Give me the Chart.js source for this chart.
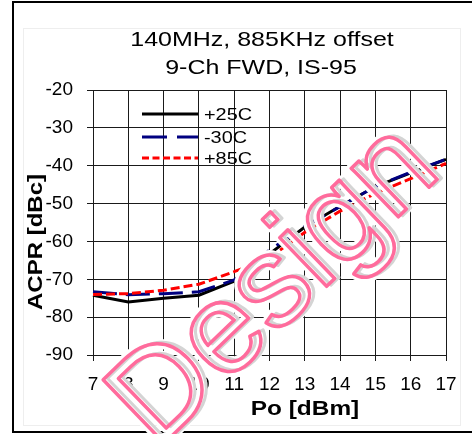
<!DOCTYPE html>
<html>
<head>
<meta charset="utf-8">
<script src="https://cdn.jsdelivr.net/npm/chart.js@4.4.0/dist/chart.umd.min.js"></script>
<style>
  html, body { margin: 0; padding: 0; background: #fff; }
  #wrap { width: 472px; height: 434px; }
</style>
</head>
<body>
<div id="wrap"><canvas id="acpr"></canvas></div>
<script>
// Po [dBm] on x, ACPR [dBc] on y
const po = [7, 8, 9, 10, 11, 12, 13, 14, 15, 16, 17];
const acprP25 = [-74.2, -76.0, -75.0, -74.2, -70.5, -63.3, -56.2, -50.7, -45.5, -41.9, -38.3];
const acprM30 = [-73.3, -74.1, -73.8, -73.3, -70.2, -62.3, -56.0, -50.8, -45.5, -41.7, -38.3];
const acprP85 = [-74.0, -73.8, -72.9, -71.3, -68.0, -64.3, -57.6, -52.0, -47.3, -43.4, -39.4];
const seriesNames = ['+25C', '-30C', '+85C'];
const titleLines = ['140MHz, 885KHz offset', '9-Ch FWD, IS-95'];
const xTitle = 'Po [dBm]';
const yTitle = 'ACPR [dBc]';
const watermark = 'Design';

const FONT = '"Liberation Sans", Arial, sans-serif';

// stretched text, the original renders its text wider than plain Arial
function wideText(ctx, text, x, y, sx, font, align) {
  ctx.save();
  ctx.translate(x, y);
  ctx.scale(sx, 1);
  ctx.font = font;
  ctx.textAlign = align || 'center';
  ctx.textBaseline = 'alphabetic';
  ctx.fillStyle = '#000';
  ctx.fillText(text, 0, 0);
  ctx.restore();
}

const decor = {
  id: 'decor',
  beforeDraw(chart) {
    const ctx = chart.ctx;
    ctx.save();
    ctx.fillStyle = '#fff';
    ctx.fillRect(0, 0, chart.width, chart.height);
    // faint excel chart-area box
    ctx.strokeStyle = '#eeeeee';
    ctx.lineWidth = 1;
    ctx.strokeRect(23.5, 28.5, 437, 397);
    // outer frame (open on the right)
    ctx.strokeStyle = '#000';
    ctx.lineWidth = 2;
    ctx.beginPath();
    ctx.moveTo(chart.width, 2);
    ctx.lineTo(13, 2);
    ctx.lineTo(13, 432);
    ctx.lineTo(chart.width, 432);
    ctx.stroke();
    ctx.restore();

    wideText(ctx, titleLines[0], 262, 46, 1.19, '21px ' + FONT);
    wideText(ctx, titleLines[1], 261, 74, 1.19, '21px ' + FONT);
    wideText(ctx, xTitle, 305, 415, 1.22, 'bold 20px ' + FONT);
    ctx.save();
    ctx.translate(42, 242);
    ctx.rotate(-Math.PI / 2);
    wideText(ctx, yTitle, 0, 0, 1.2, 'bold 20px ' + FONT);
    ctx.restore();
  },
  afterDatasetsDraw(chart) {
    const ctx = chart.ctx;
    // legend inside the plot
    const rows = [114, 137, 158];
    chart.data.datasets.forEach((ds, i) => {
      ctx.save();
      ctx.strokeStyle = ds.borderColor;
      ctx.lineWidth = 3;
      ctx.setLineDash(ds.legendDash);
      ctx.beginPath();
      ctx.moveTo(142, rows[i]);
      ctx.lineTo(198, rows[i]);
      ctx.stroke();
      ctx.restore();
      ctx.save();
      ctx.translate(204, rows[i] + 6);
      ctx.scale(1.17, 1);
      ctx.font = '17px ' + FONT;
      ctx.textAlign = 'left';
      ctx.fillStyle = '#000';
      ctx.fillText(ds.label, 0, 0);
      ctx.restore();
    });
  },
  afterDraw(chart) {
    const ctx = chart.ctx;
    ctx.save();
    ctx.translate(300, 312);
    ctx.rotate(-44 * Math.PI / 180);
    ctx.font = '128px ' + FONT;
    ctx.textAlign = 'center';
    ctx.textBaseline = 'alphabetic';
    ctx.lineJoin = 'round';
    ctx.strokeStyle = '#fff';
    ctx.lineWidth = 10;
    ctx.strokeText(watermark, 0, 0);
    ctx.strokeStyle = '#d4d4d4';
    ctx.lineWidth = 3;
    ctx.strokeText(watermark, 4, 2);
    ctx.strokeStyle = '#ff6b9c';
    ctx.lineWidth = 3.5;
    ctx.strokeText(watermark, 0, 0);
    ctx.restore();
  }
};

new Chart(document.getElementById('acpr'), {
  type: 'line',
  data: {
    labels: po,
    datasets: [
      { label: seriesNames[0], data: acprP25, borderColor: '#000000', borderWidth: 3, borderDash: [], legendDash: [], order: 3 },
      { label: seriesNames[1], data: acprM30, borderColor: '#000080', borderWidth: 3, borderDash: [24, 9], legendDash: [25, 10], order: 2 },
      { label: seriesNames[2], data: acprP85, borderColor: '#ff0000', borderWidth: 3, borderDash: [9, 4], legendDash: [7, 3.5], order: 1 }
    ]
  },
  options: {
    responsive: true,
    maintainAspectRatio: false,
    animation: false,
    events: [],
    layout: { padding: { top: 90, right: 26, left: 0, bottom: 0 } },
    elements: { point: { radius: 0 }, line: { tension: 0, borderCapStyle: 'butt' } },
    plugins: { legend: { display: false }, title: { display: false }, tooltip: { enabled: false } },
    scales: {
      x: {
        type: 'category',
        offset: false,
        grid: { color: '#1a1a1a', lineWidth: 1, tickLength: 6, tickColor: '#1a1a1a' },
        border: { color: '#1a1a1a', width: 1 },
        ticks: { color: '#000', font: { family: FONT, size: 19 }, padding: 12, maxRotation: 0, autoSkip: false },
        afterFit(scale) { scale.height = 79; }
      },
      y: {
        min: -90,
        max: -20,
        grid: { color: '#1a1a1a', lineWidth: 1, tickLength: 6, tickColor: '#1a1a1a' },
        border: { color: '#1a1a1a', width: 1 },
        ticks: { stepSize: 10, color: '#000', font: { family: FONT, size: 19 }, padding: 14 },
        afterFit(scale) { scale.width = 93; }
      }
    }
  },
  plugins: [decor]
});
</script>
</body>
</html>
